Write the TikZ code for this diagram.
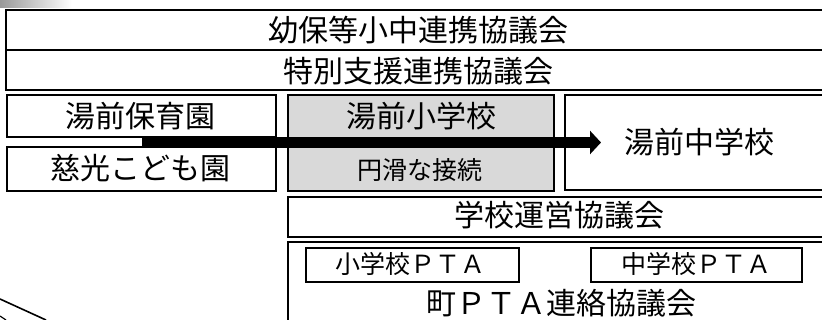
\documentclass[tikz,border=0pt]{standalone}
\usepackage{fontspec}
\newfontfamily\jp{Noto Sans CJK JP}
\usetikzlibrary{arrows.meta}
\definecolor{boxgray}{HTML}{D9D9D9}
\tikzset{
  box/.style={draw, line width=2pt, inner sep=0pt, anchor=north west, fill=white},
  big/.style={font=\jp\fontsize{30}{32}\selectfont, inner sep=0pt},
  small/.style={font=\jp\fontsize{25}{27}\selectfont, inner sep=0pt},
}
\begin{document}
\begin{tikzpicture}[x=1pt,y=-1pt]
\useasboundingbox (0,0) rectangle (822,320);
\clip (0,0) rectangle (822,320);
\fill[white] (0,0) rectangle (822,320);
% top-left shadow
\shade[left color=black!40, right color=white] (0,0) rectangle (72,8);
% rows
\node[box, minimum width=825pt, minimum height=40pt] (yoho) at (5,9) {};
\node[box, minimum width=825pt, minimum height=40pt] (tokubetsu) at (5,49) {};
\node[box, minimum width=269pt, minimum height=42pt] (hoiku) at (6,94) {};
\node[box, minimum width=269pt, minimum height=44pt] (jiko) at (6,146) {};
\node[box, fill=boxgray, minimum width=266pt, minimum height=96pt] (sho) at (287,94) {};
\node[box, minimum width=266pt, minimum height=95pt] (chu) at (564,94) {};
\node[box, minimum width=543pt, minimum height=40pt] (unei) at (287,196) {};
\node[box, minimum width=543pt, minimum height=100pt] (pta) at (287,241) {};
\node[box, minimum width=213pt, minimum height=34pt] (shopta) at (305,247) {};
\node[box, minimum width=211pt, minimum height=34pt] (chupta) at (590,247) {};
% texts
\node[big] (t1) at (418,30) {幼保等小中連携協議会};
\node[big] (t2) at (418,71) {特別支援連携協議会};
\node[big] (t3) at (140,116) {湯前保育園};
\node[big] (t4) at (140,168) {慈光こども園};
\node[big] (t5) at (421,116) {湯前小学校};
\node[small] (t6) at (420,170) {円滑な接続};
\node[big] (t7) at (699,142) {湯前中学校};
\node[big] (t8) at (559,215) {学校運営協議会};
\node[small] (t9) at (410,264) {小学校ＰＴＡ};
\node[small] (t10) at (696,264) {中学校ＰＴＡ};
\node[big] (t11) at (561,303) {町ＰＴＡ連絡協議会};
% arrow
\coordinate (astart) at (hoiku.center |- 0,142.5);
\coordinate (aend) at (601,142.5);
\draw[line width=11pt, -{Triangle[length=11pt,width=23pt]}] (astart) -- (aend);
% bottom-left fragment
\draw[line width=1.6pt] (0,299) -- (46,320);
\draw[line width=1.2pt] (0,316) -- (6,320);
\end{tikzpicture}
\end{document}
